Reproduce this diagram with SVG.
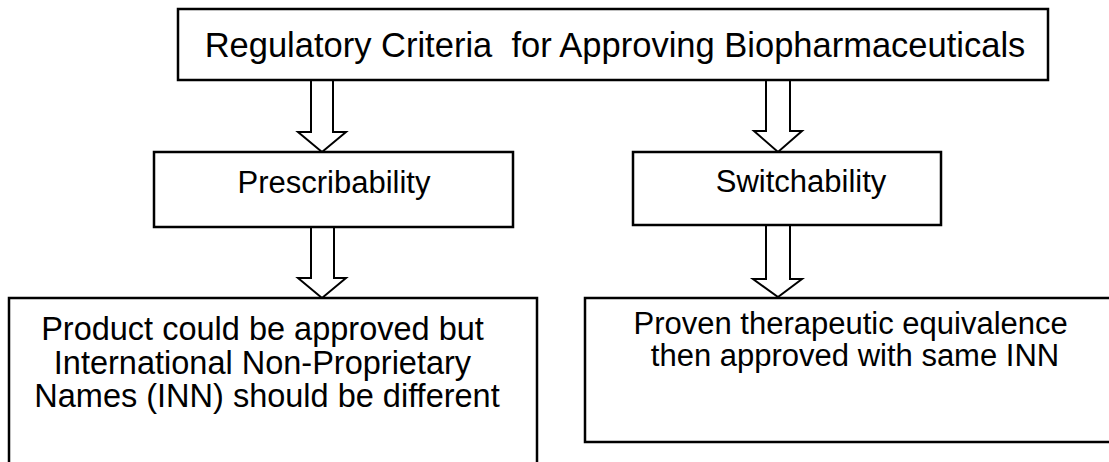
<svg xmlns="http://www.w3.org/2000/svg" width="1109" height="462" viewBox="0 0 1109 462">
  <style>
    .box { fill: #ffffff; stroke: #000000; stroke-width: 2.5; }
    .arrow { fill: #ffffff; stroke: #000000; stroke-width: 2; stroke-linejoin: miter; }
    .label { font-family: "Liberation Sans", Arial, sans-serif; font-size: 31px; fill: #000000; }
    .title { font-size: 34.5px; }
    .wide { font-size: 32.5px; }
  </style>
  <rect width="1109" height="462" fill="#ffffff"/>

  <!-- block arrows -->
  <g id="connectors">
    <polygon class="arrow" points="311,80 333,80 333,132 346,132 322,152 298,132 311,132"/>
    <polygon class="arrow" points="766,80 790,80 790,131 802,131 778,152 754,131 766,131"/>
    <polygon class="arrow" points="311,227 334,227 334,278 346,278 322,298 298,278 311,278"/>
    <polygon class="arrow" points="766,225 790,225 790,279 802,279 778,297 753,279 766,279"/>
  </g>

  <g id="criteria">
    <rect class="box" x="178" y="9" width="870" height="71"/>
    <text class="label title" x="615" y="57" text-anchor="middle" xml:space="preserve">Regulatory Criteria  for Approving Biopharmaceuticals</text>
  </g>

  <g id="prescribability">
    <rect class="box" x="154" y="152" width="359" height="75"/>
    <text class="label" x="334" y="193" text-anchor="middle">Prescribability</text>
  </g>

  <g id="switchability">
    <rect class="box" x="633" y="152" width="308" height="73"/>
    <text class="label" x="801" y="192" text-anchor="middle">Switchability</text>
  </g>

  <g id="prescribability-outcome">
    <rect class="box" x="9" y="298" width="528" height="180"/>
    <text class="label wide" text-anchor="middle">
      <tspan x="267" y="340">Product could be approved but</tspan>
      <tspan x="267" y="374">International Non-Proprietary</tspan>
      <tspan x="267" y="407">Names (INN) should be different</tspan>
    </text>
  </g>

  <g id="switchability-outcome">
    <rect class="box" x="585" y="298" width="540" height="144"/>
    <text class="label" text-anchor="middle">
      <tspan x="855" y="334">Proven therapeutic equivalence</tspan>
      <tspan x="855" y="366">then approved with same INN</tspan>
    </text>
  </g>
</svg>
